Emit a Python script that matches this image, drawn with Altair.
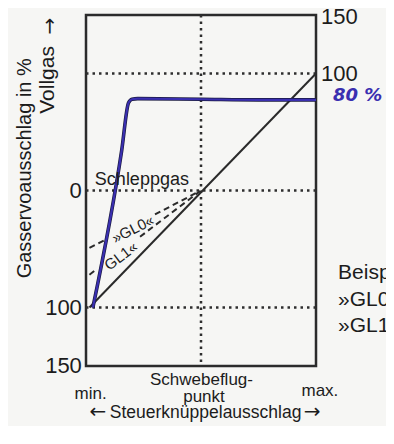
import altair as alt
import pandas as pd

# ---------------- data ----------------
# x: stick travel 0 (min.) .. 50 (Schwebeflugpunkt) .. 100 (max.)
# y: throttle servo travel, -150 .. 150 (labels shown as absolute values)
left_tick_values = [0, -100, -150]
left_tick_labels = ["0", "100", "150"]
right_tick_values = [148, 100]
right_tick_labels = ["150", "100"]
grid_y = [100, 0, -100]
grid_x = [50]

diag_x = [1.5, 100]
diag_y = [-100, 100]

blue_x = [3, 15.5, 18.5, 20, 22.5, 50, 75, 100]
blue_y = [-100, 34, 75, 78, 78.5, 78, 77.5, 77.5]

gl0_seg = ["a", "a", "b", "b"]
gl0_x = [1.5, 9, 30, 49.5]
gl0_y = [-49, -41.5, -20.5, -0.5]

gl1_seg = ["a", "a", "b", "b"]
gl1_x = [1.5, 4.8, 23.5, 49.5]
gl1_y = [-72, -67, -39.5, -0.7]

FONT = "Liberation Sans"
ARROW_FONT = "DejaVu Sans"
INK = "#1c1c1c"
BLUE = "#3a2fb0"

xs = alt.Scale(domain=[0, 100], nice=False, zero=False)
ys = alt.Scale(domain=[-150, 150], nice=False, zero=False)


def enc(chart):
    return chart.encode(
        x=alt.X("x:Q", scale=xs, axis=None),
        y=alt.Y("y:Q", scale=ys, axis=None),
    )


# gridlines
grid_h = alt.Chart(pd.DataFrame({"y": grid_y})).mark_rule(
    color="#2e2e2e", strokeWidth=2.5, strokeDash=[2.5, 4]
).encode(y=alt.Y("y:Q", scale=ys, axis=None))
grid_v = alt.Chart(pd.DataFrame({"x": grid_x})).mark_rule(
    color="#2e2e2e", strokeWidth=2.5, strokeDash=[2.5, 4]
).encode(x=alt.X("x:Q", scale=xs, axis=None))

diag = enc(alt.Chart(pd.DataFrame({"x": diag_x, "y": diag_y})).mark_line(
    color="#2a2a2a", strokeWidth=2))

blue_df = pd.DataFrame({"x": blue_x, "y": blue_y})
blue_under = enc(alt.Chart(blue_df).mark_line(
    color="#1a1a40", strokeWidth=3.6, interpolate="monotone"))
blue = enc(alt.Chart(blue_df).mark_line(
    color=BLUE, strokeWidth=2.2, interpolate="monotone"))

gl0 = enc(alt.Chart(pd.DataFrame({"x": gl0_x, "y": gl0_y, "seg": gl0_seg})).mark_line(
    color="#2a2a2a", strokeWidth=2, strokeDash=[6, 4])).encode(detail="seg:N")
gl1 = enc(alt.Chart(pd.DataFrame({"x": gl1_x, "y": gl1_y, "seg": gl1_seg})).mark_line(
    color="#2a2a2a", strokeWidth=2, strokeDash=[6, 4])).encode(detail="seg:N")


def text_layer(rows, align, **kw):
    df = pd.DataFrame(rows, columns=["t", "x", "y", "s", "a"])
    return alt.Chart(df).mark_text(
        align=align, baseline="middle", font=kw.pop("font", FONT),
        color=kw.pop("color", INK), **kw
    ).encode(
        x=alt.X("x:Q", scale=xs, axis=None),
        y=alt.Y("y:Q", scale=ys, axis=None),
        text="t:N",
        size=alt.Size("s:Q", scale=None, legend=None),
        angle=alt.Angle("a:Q", scale=None, legend=None),
    )


left_ticks = text_layer(
    [(t, -1.8, v, 22, 0) for t, v in zip(left_tick_labels, left_tick_values)], "right")
right_ticks = text_layer(
    [(t, 102.2, v, 22, 0) for t, v in zip(right_tick_labels, right_tick_values)], "left")

centered = text_layer([
    ("Gasservoausschlag in %", -26.5, 19, 20, 270),
    ("Vollgas", -16.5, 94.5, 21, 270),
    ("Schleppgas", 24.3, 9, 18, 0),
    ("»GL0«", 20.4, -33, 15, 333),
    ("GL1«", 15.2, -56, 15, 323),
    ("min.", 2.0, -174, 17, 0),
    ("Schwebeflug-", 50.2, -162, 17, 0),
    ("punkt", 51.3, -176.5, 17, 0),
    ("max.", 101.7, -171.5, 17, 0),
    ("Steuerknüppelausschlag", 52.0, -190, 17.5, 0),
], "center")

arrows = text_layer([
    ("→", -15.6, 140.5, 20, 270),
    ("←", 5.2, -189, 20, 0),
    ("→", 98.3, -189, 20, 0),
], "center", font=ARROW_FONT)

handwritten = text_layer([("80 %", 107.4, 80.5, 18, 0)], "left",
                         font="DejaVu Sans", color=BLUE, fontStyle="italic",
                         fontWeight="bold")

side_text = text_layer([
    ("Beisp", 109.6, -70.5, 21, 0),
    ("»GL0", 109.6, -93.5, 21, 0),
    ("»GL1", 109.6, -115.8, 21, 0),
], "left")

chart = alt.layer(
    grid_h, grid_v, diag, gl0, gl1, blue_under, blue,
    left_ticks, right_ticks, centered, arrows, handwritten, side_text,
).properties(
    width=230,
    height=351,
    padding={"left": 78, "top": 7, "right": 70, "bottom": 60},
    autosize=alt.AutoSizeParams(type="none"),
    background="#f6f6f4",
).configure_view(
    stroke="#2b2b2b", strokeWidth=2.5
)

chart.save("out.html", embed_options={"renderer": "svg", "actions": False})
